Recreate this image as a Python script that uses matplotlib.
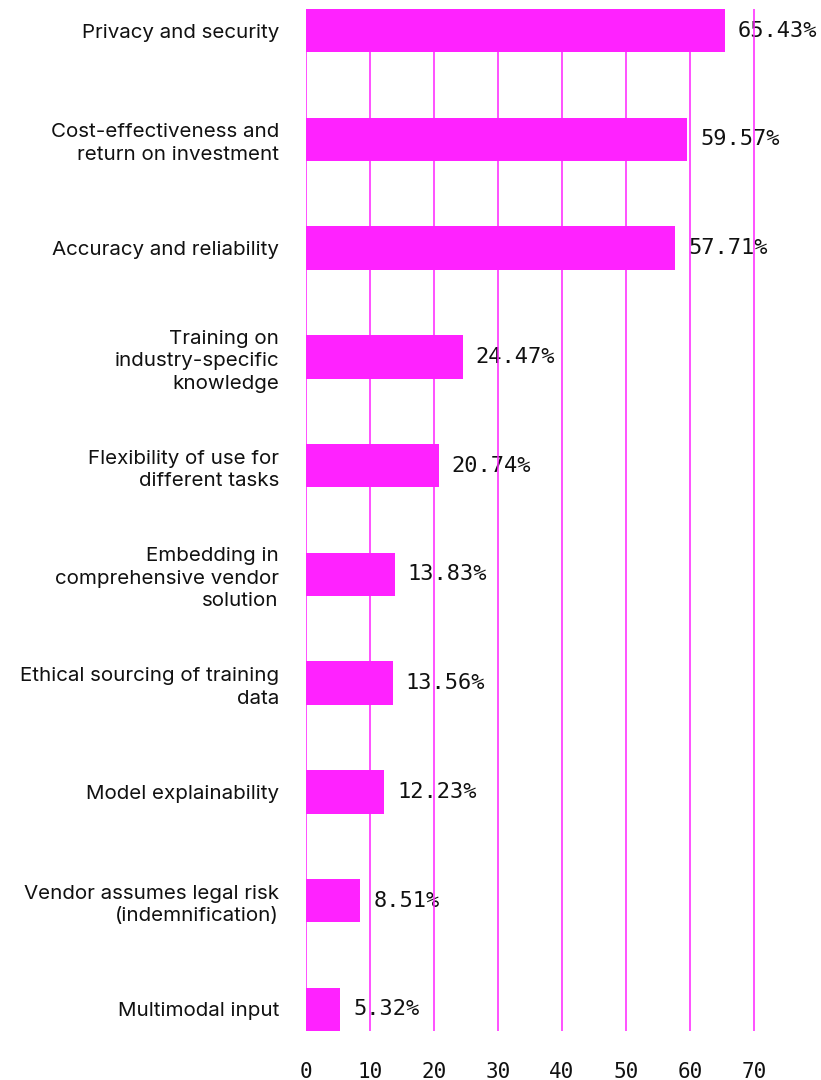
import matplotlib
matplotlib.use("Agg")
import matplotlib.pyplot as plt

categories = [
    "Privacy and security",
    "Cost-effectiveness and\nreturn on investment",
    "Accuracy and reliability",
    "Training on\nindustry-specific\nknowledge",
    "Flexibility of use for\ndifferent tasks",
    "Embedding in\ncomprehensive vendor\nsolution",
    "Ethical sourcing of training\ndata",
    "Model explainability",
    "Vendor assumes legal risk\n(indemnification)",
    "Multimodal input",
]
values = [65.43, 59.57, 57.71, 24.47, 20.74, 13.83, 13.56, 12.23, 8.51, 5.32]
xticks = [0, 10, 20, 30, 40, 50, 60, 70]

pink = "#ff22ff"
mono = "DejaVu Sans Mono"

W, H = 821, 1080
fig = plt.figure(figsize=(W / 100, H / 100), dpi=100)
# axes box in pixels: left 306, right 818, top 9, bottom 1031
ax = fig.add_axes([306 / W, 1 - 1031 / H, (818 - 306) / W, (1031 - 9) / H])

ypos = list(range(len(categories)))
ax.barh(ypos, values, height=0.4, color=pink, zorder=2)
ax.set_ylim(len(categories) - 1 + 0.2, -0.2)
ax.set_xlim(0, 80)

for x in xticks:
    ax.axvline(x, color=pink, lw=1.1, zorder=3)

for y, v in zip(ypos, values):
    ax.annotate(f"{v:.2f}%", (v, y), xytext=(13, 0), textcoords="offset pixels",
                va="center", ha="left", fontsize=15.8, family=mono,
                color="#111111", zorder=1)

ax.set_yticks(ypos)
ax.set_yticklabels(categories, fontsize=14.8, family="Inter", color="#111111",
                   linespacing=1.32)
ax.set_xticks(xticks)
ax.set_xticklabels([str(x) for x in xticks], fontsize=15, family=mono,
                   color="#111111")
ax.tick_params(axis="y", length=0, pad=19.5)
ax.tick_params(axis="x", length=0, pad=22)
for s in ax.spines.values():
    s.set_visible(False)

fig.savefig("out.png", dpi=100)
